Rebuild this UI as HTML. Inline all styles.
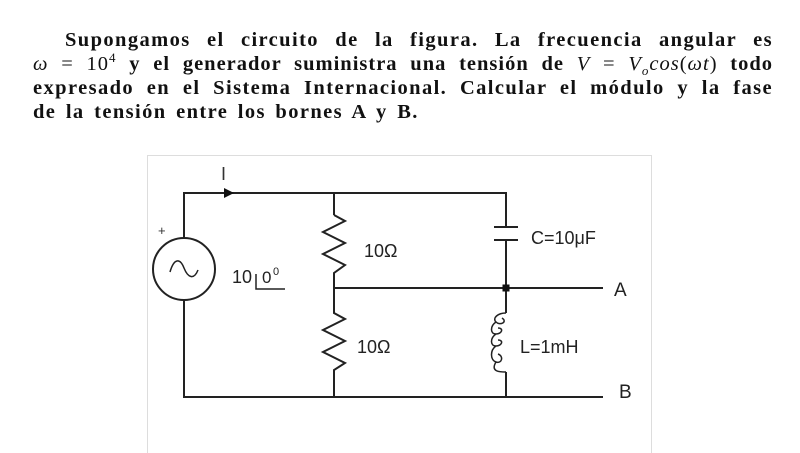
<!DOCTYPE html>
<html><head><meta charset="utf-8"><style>
body{margin:0;width:800px;height:453px;background:#fff;overflow:hidden;position:relative}
.l{position:absolute;left:33px;width:740px;font-family:"Liberation Serif",serif;font-weight:bold;font-size:20.5px;line-height:24px;text-align:justify;text-align-last:justify;white-space:nowrap;color:#111;letter-spacing:1.4px;word-spacing:0px}
.l i{font-weight:normal}
</style></head><body>
<div class="l" style="top:28px;left:65px;width:708px">Supongamos el circuito de la figura. La frecuencia angular es</div>
<div class="l" style="top:52px;letter-spacing:1px"><i>ω</i> <span style="font-weight:normal">= 10<sup style="font-size:13px;line-height:0">4</sup></span> y el generador suministra una tensión de <i>V</i> <span style="font-weight:normal">=</span> <i>V<sub style="font-size:13px;line-height:0">o</sub>cos</i><span style="font-weight:normal">(</span><i>ωt</i><span style="font-weight:normal">)</span> todo</div>
<div class="l" style="top:76px">expresado en el Sistema Internacional. Calcular el módulo y la fase</div>
<div class="l" style="top:100px;width:auto;text-align-last:left;word-spacing:3px">de la tensión entre los bornes A y B.</div>
<svg width="800" height="453" style="position:absolute;left:0;top:0" font-family="Liberation Sans, sans-serif">
<rect x="147.5" y="155.5" width="504" height="300" fill="none" stroke="#ddd"/>
<g stroke="#222" stroke-width="2" fill="none">
<polyline points="184,238 184,193 506,193 506,227"/>
<line x1="506" y1="240" x2="506" y2="313"/>
<polyline points="184,300 184,397 603,397"/>
<line x1="334" y1="193" x2="334" y2="215"/>
<polyline points="334,215 345,221 323,232 345,243 323,254 345,265 334,273 334,313 345,319 323,330 345,341 323,352 345,363 334,370 334,397"/>
<line x1="334" y1="288" x2="603" y2="288"/>
<line x1="494" y1="227" x2="518" y2="227"/><line x1="494" y1="240" x2="518" y2="240"/>
<line x1="506" y1="372" x2="506" y2="397"/>
<path d="M506,313 C498,313 492,318 496,322 C500,326 508,322 502,318 M496,322 C490,326 490,334 496,334 C502,334 504,328 498,328 M496,334 C490,338 490,346 496,346 C502,346 504,340 498,340 M496,346 C490,350 490,360 496,362 C502,364 504,356 498,354 M496,362 C490,372 500,372 506,372" stroke-width="1.5"/>
<circle cx="184" cy="269" r="31"/>
<path d="M170,272 C174,258 180,258 184,268 C188,278 194,280 198,270" stroke-width="1.5"/>
<polyline points="256,274 256,289 285,289" stroke-width="1.5"/>
</g>
<polygon points="224,188 234,193 224,198" fill="#111"/>
<rect x="502.5" y="284.5" width="7" height="7" fill="#111"/>
<text x="221" y="180" font-size="18" fill="#333">I</text>
<text x="158" y="235" font-size="13" fill="#333">+</text>
<text x="232" y="283" font-size="18" fill="#222">10</text>
<text x="262" y="283" font-size="17" fill="#222">0</text><text x="273" y="275" font-size="11" fill="#222">0</text>
<text x="364" y="257" font-size="18" fill="#222">10Ω</text>
<text x="357" y="353" font-size="18" fill="#222">10Ω</text>
<text x="531" y="244" font-size="18" fill="#222">C=10μF</text>
<text x="520" y="353" font-size="18" fill="#222">L=1mH</text>
<text x="614" y="296" font-size="19" fill="#222">A</text>
<text x="619" y="398" font-size="19" fill="#222">B</text>
</svg>
</body></html>
